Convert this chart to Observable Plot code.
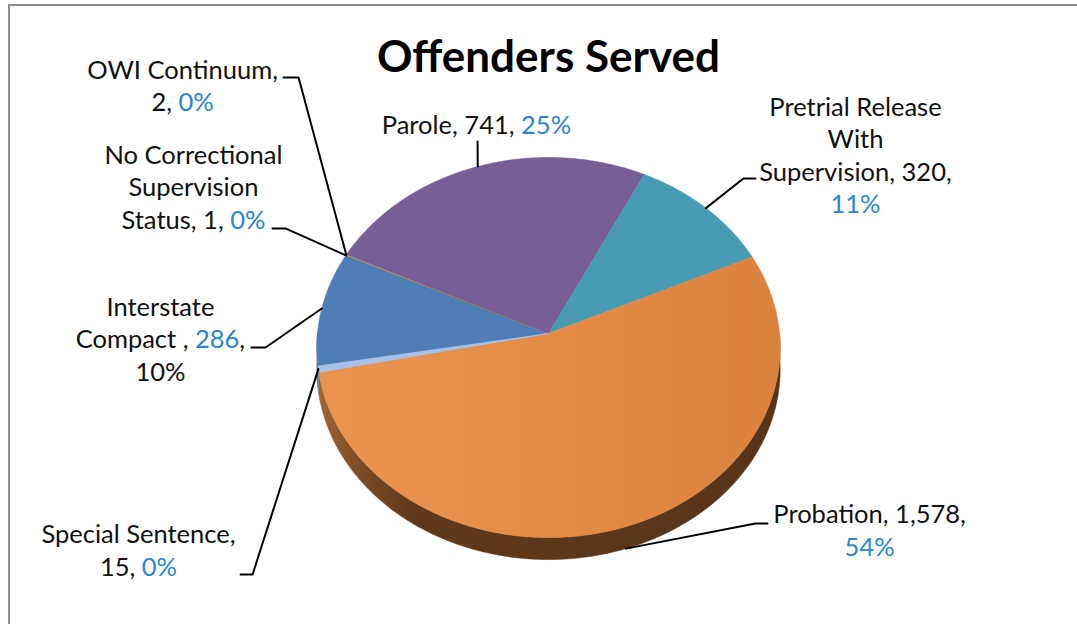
<!DOCTYPE html>
<html><head><meta charset="utf-8">
<script src="https://cdn.jsdelivr.net/npm/d3@7"></script>
<script src="https://cdn.jsdelivr.net/npm/@observablehq/plot@0.6"></script>
<style>
html,body{margin:0;padding:0;background:#fff;}
#wrap{position:relative;width:1077px;height:624px;overflow:hidden;}
#border{position:absolute;left:8px;top:4px;width:3000px;height:3000px;border-left:2px solid #8e8e8e;border-top:2px solid #8e8e8e;}
#chart{position:absolute;left:0;top:0;}
</style></head><body>
<div id="wrap"><div id="border"></div><div id="chart"></div></div>
<script>
// ---------------- data ----------------
const title = "Offenders Served";
const categories = ["Interstate Compact", "No Correctional Supervision Status", "OWI Continuum", "Parole",
  "Pretrial Release With Supervision", "Probation", "Special Sentence"];
const values = [286, 1, 2, 741, 320, 1578, 15];
const percentLabels = ["10%", "0%", "0%", "25%", "11%", "54%", "0%"];
// label lines: {v} value, {p} percent, [..] = blue segment
const labelLines = [
  ["Interstate", "Compact , [{v}],", "{p}"],
  ["No Correctional", "Supervision", "Status, {v}, [{p}]"],
  ["OWI Continuum,", "{v}, [{p}]"],
  ["Parole, {v}, [{p}]"],
  ["Pretrial Release", "With", "Supervision, {v},", "[{p}]"],
  ["Probation, {v},", "[{p}]"],
  ["Special Sentence,", "{v}, [{p}]"]
];

// ---------------- styles / layout ----------------
const topColors = ["#4f7eb6", "#c0504d", "#9bbb59", "#775e95", "#479cb3", "url(#probTop)", "#a7c0e8"];
const sideColors = ["#2f5584", "#7a2e2c", "#5f7a30", "#4a3466", "#2a6a7c", "url(#probSide)", "#7086ab"];
const BLUE = "#2b85d0";
const FS = 25.5, LH = 32.5;
const startAngle = 260.2;       // first slice angle, degrees clockwise from 12 o'clock
const PERSP = 0.0737;           // perspective strength
const DEPTH = 22 / 189;         // pie thickness in y units
const CX = 548, RX = 231, CY = 333, RY = 189;
// label placement in pie units: [x centre, first baseline y]
const labelAt = [[-1.680, -0.095], [-1.537, -0.899], [-1.584, -1.349], [-0.312, -1.058],
  [1.329, -1.153], [1.390, 1.005], [-1.775, 1.111]];
// leader elbow and stub end in pie units
const leaderAt = [
  [[-1.225, 0.074], [-1.286, 0.074]],
  [[-1.139, -0.556], [-1.195, -0.556]],
  [[-1.082, -1.354], [-1.147, -1.354]],
  [[-0.307, -1.016], [-0.307, -1.016]],
  [[0.844, -0.820], [0.896, -0.820]],
  [[0.896, 1.005], [0.948, 1.005]],
  [[-1.281, 1.275], [-1.333, 1.275]]
];
const anchorOnSide = [false, false, false, false, false, true, false];
const titleAt = [0, -1.381];

// ---------------- geometry ----------------
function proj(deg, r = 1, down = 0) {
  const t = deg * Math.PI / 180;
  const u = r * Math.sin(t), v = -r * Math.cos(t);
  const k = 1 - PERSP * v;
  return {x: u / k, y: v / k + down};
}
const total = d3.sum(values);
let acc = startAngle;
const slices = categories.map((c, i) => {
  const a0 = acc, a1 = acc + values[i] / total * 360;
  acc = a1;
  return {i, c, a0, a1, mid: (a0 + a1) / 2};
});
function arcPts(a0, a1, down) {
  const n = Math.max(2, Math.ceil((a1 - a0) / 0.5));
  return d3.range(n + 1).map(j => proj(a0 + (a1 - a0) * j / n, 1, down));
}
const topPts = slices.flatMap(s => [proj(0, 0), ...arcPts(s.a0, s.a1, 0), proj(0, 0)]
  .map(p => ({...p, k: s.i, fill: topColors[s.i]})));
const sidePts = [];
slices.forEach(s => {
  [[90, 270], [450, 630]].forEach(([lo, hi], w) => {
    const b0 = Math.max(lo, s.a0), b1 = Math.min(hi, s.a1);
    if (b1 <= b0) return;
    const pts = [...arcPts(b0, b1, 0), ...arcPts(b0, b1, DEPTH).reverse()];
    pts.forEach(p => sidePts.push({...p, k: s.i * 10 + w, fill: sideColors[s.i]}));
  });
});
const leaders = slices.flatMap(s => {
  const a = proj(s.mid, 1, anchorOnSide[s.i] ? DEPTH : 0);
  const [e, f] = leaderAt[s.i];
  return [a, {x: e[0], y: e[1]}, {x: f[0], y: f[1]}].map(p => ({...p, k: s.i}));
});
const fmt = d3.format(",");
const rows = [];
slices.forEach(s => {
  labelLines[s.i].forEach((line, j) => {
    const filled = line.replace("{v}", fmt(values[s.i])).replace("{p}", percentLabels[s.i]);
    const segs = [];
    filled.split(/(\[[^\]]*\])/).forEach(part => {
      if (!part) return;
      if (part.startsWith("[")) segs.push({t: part.slice(1, -1), blue: true});
      else segs.push({t: part, blue: false});
    });
    rows.push({x: labelAt[s.i][0], y: labelAt[s.i][1] + j * LH / RY, plain: segs.map(d => d.t).join(""), segs});
  });
});

// ---------------- plot ----------------
const svg = Plot.plot({
  width: 1077, height: 624,
  marginTop: 0, marginRight: 0, marginBottom: 0, marginLeft: 0,
  style: {background: "transparent", fontFamily: "Lato"},
  x: {domain: [-1, 1], range: [CX - RX, CX + RX], axis: null},
  y: {domain: [-1, 1], range: [CY - RY, CY + RY], axis: null},
  color: {type: "identity"},
  marks: [
    Plot.line(sidePts, {x: "x", y: "y", z: "k", fill: "fill", stroke: "fill", strokeWidth: 0.6, curve: "linear"}),
    Plot.line(topPts, {x: "x", y: "y", z: "k", fill: "fill", stroke: "fill", strokeWidth: 0.6, curve: "linear"}),
    Plot.line(leaders, {x: "x", y: "y", z: "k", stroke: "#000", strokeWidth: 2, curve: "linear"}),
    Plot.text(rows, {x: "x", y: "y", text: "plain", textAnchor: "middle", lineAnchor: "bottom",
      fontSize: FS, fontFamily: "Lato", fill: "#111"}),
    Plot.text([title], {x: () => titleAt[0], y: () => titleAt[1], text: d => d, textAnchor: "middle",
      lineAnchor: "bottom", fontSize: 44, fontWeight: "bold", fontFamily: "Lato", fill: "#000"})
  ]
});

// gradients
const defs = d3.select(svg).insert("defs", ":first-child");
const g1 = defs.append("linearGradient").attr("id", "probTop").attr("x1", 0).attr("x2", 1).attr("y1", 0).attr("y2", 0);
g1.append("stop").attr("offset", 0).attr("stop-color", "#eb9452");
g1.append("stop").attr("offset", 1).attr("stop-color", "#db833d");
const g2 = defs.append("linearGradient").attr("id", "probSide").attr("x1", 0).attr("x2", 1).attr("y1", 0).attr("y2", 0);
[[0, "#a06634"], [0.08, "#7f4e25"], [0.2, "#5f391b"], [1, "#573419"]].forEach(([o, c]) =>
  g2.append("stop").attr("offset", o).attr("stop-color", c));

// coloured segments inside labels (match each text element to its row by content)
const used = new Set();
d3.select(svg).selectAll("text").each(function () {
  const content = this.textContent;
  const idx = rows.findIndex((r, j) => !used.has(j) && r.plain === content && r.segs.some(s => s.blue));
  if (idx < 0) return;
  used.add(idx);
  const t = d3.select(this);
  t.text(null);
  rows[idx].segs.forEach(s => {
    const sp = t.append("tspan").text(s.t);
    if (s.blue) sp.attr("fill", BLUE).style("fill", BLUE);
  });
});

document.getElementById("chart").appendChild(svg);
</script>
</body></html>
